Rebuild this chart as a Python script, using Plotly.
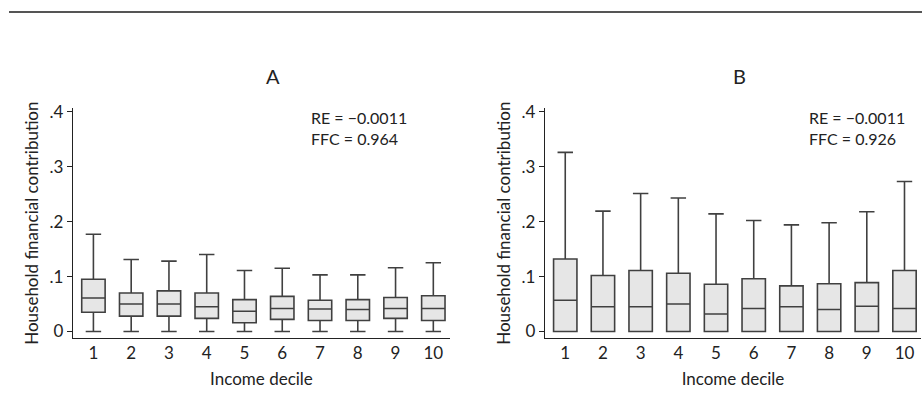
import plotly.graph_objects as go

deciles = [1, 2, 3, 4, 5, 6, 7, 8, 9, 10]
tick_labels = ["1", "2", "3", "4", "5", "6", "7", "8", "9", "10"]

# Panel A
a_low = [0, 0, 0, 0, 0, 0, 0, 0, 0, 0]
a_q1 = [0.035, 0.028, 0.028, 0.024, 0.016, 0.022, 0.020, 0.020, 0.024, 0.020]
a_med = [0.061, 0.050, 0.050, 0.045, 0.037, 0.042, 0.041, 0.040, 0.042, 0.042]
a_q3 = [0.095, 0.070, 0.074, 0.070, 0.058, 0.064, 0.057, 0.058, 0.062, 0.065]
a_high = [0.177, 0.131, 0.128, 0.140, 0.111, 0.115, 0.103, 0.103, 0.116, 0.125]

# Panel B
b_low = [0, 0, 0, 0, 0, 0, 0, 0, 0, 0]
b_q1 = [0, 0, 0, 0, 0, 0, 0, 0, 0, 0]
b_med = [0.057, 0.045, 0.045, 0.050, 0.032, 0.042, 0.045, 0.040, 0.046, 0.042]
b_q3 = [0.132, 0.102, 0.111, 0.106, 0.086, 0.096, 0.083, 0.087, 0.089, 0.111]
b_high = [0.326, 0.219, 0.251, 0.243, 0.214, 0.202, 0.194, 0.198, 0.218, 0.273]

y_ticks = [0, 0.1, 0.2, 0.3, 0.4]
y_tick_labels = ["0", ".1", ".2", ".3", ".4"]

panel_titles = ["A", "B"]
re_text = ["RE = \u22120.0011", "RE = \u22120.0011"]
ffc_text = ["FFC = 0.964", "FFC = 0.926"]

FONT = "Lato"
FILL = "#e6e6e6"
LINE = "#404040"
TXT = "#222"

fig = go.Figure()

def add_box(xa, ya, low, q1, med, q3, high):
    fig.add_trace(go.Box(
        x=deciles, lowerfence=low, q1=q1, median=med, q3=q3, upperfence=high,
        xaxis=xa, yaxis=ya, width=0.62, whiskerwidth=0.66,
        fillcolor=FILL, line=dict(color=LINE, width=1.6),
        boxpoints=False, showlegend=False, hoverinfo="skip",
    ))

add_box("x", "y", a_low, a_q1, a_med, a_q3, a_high)
add_box("x2", "y2", b_low, b_q1, b_med, b_q3, b_high)

ydom = [0.1518, 0.742]
xdomA = [0.0792, 0.488]
xdomB = [0.591, 0.999]

axis_common_x = dict(
    range=[0.46, 10.44], tickmode="array", tickvals=deciles, ticktext=tick_labels,
    showline=True, linecolor=TXT, linewidth=1.3, ticks="", showgrid=False,
    zeroline=False, tickfont=dict(family=FONT, size=17, color=TXT),
    title=dict(text="Income decile", font=dict(family=FONT, size=17, color=TXT), standoff=10),
    fixedrange=True,
)
axis_common_y = dict(
    range=[-0.0117, 0.406], tickmode="array", tickvals=y_ticks, ticktext=y_tick_labels,
    showline=True, linecolor=TXT, linewidth=1.3, ticks="outside", ticklen=5,
    tickcolor=TXT, tickwidth=1.2, showgrid=False, zeroline=False,
    tickfont=dict(family=FONT, size=17, color=TXT),
    title=dict(text="Household financial contribution", font=dict(family=FONT, size=17, color=TXT), standoff=6),
    fixedrange=True,
)

fig.update_layout(
    width=922, height=400,
    margin=dict(l=0, r=0, t=0, b=0),
    paper_bgcolor="white", plot_bgcolor="white",
    xaxis=dict(domain=xdomA, anchor="y", **axis_common_x),
    yaxis=dict(domain=ydom, anchor="x", **axis_common_y),
    xaxis2=dict(domain=xdomB, anchor="y2", **axis_common_x),
    yaxis2=dict(domain=ydom, anchor="x2", **axis_common_y),
    font=dict(family=FONT, color=TXT),
)

title_x = [273 / 922, 739 / 922]
ann_x = [310 / 922, 808 / 922]
for i in range(2):
    fig.add_annotation(text=panel_titles[i], xref="paper", yref="paper",
                       x=title_x[i], y=(400 - 70) / 400, showarrow=False,
                       xanchor="center", yanchor="middle",
                       font=dict(family=FONT, size=20, color=TXT))
    fig.add_annotation(text=re_text[i], xref="paper", yref="paper",
                       x=ann_x[i], y=(400 - 123.5) / 400, showarrow=False,
                       xanchor="left", yanchor="bottom", borderpad=0,
                       font=dict(family=FONT, size=16, color=TXT))
    fig.add_annotation(text=ffc_text[i], xref="paper", yref="paper",
                       x=ann_x[i], y=(400 - 123.5) / 400, showarrow=False,
                       xanchor="left", yanchor="top", borderpad=0,
                       font=dict(family=FONT, size=16, color=TXT))

fig.add_shape(type="line", xref="paper", yref="paper",
              x0=9 / 922, x1=1, y0=(400 - 4) / 400, y1=(400 - 4) / 400,
              line=dict(color="#555", width=2))

fig.write_html("out.html", config={"displayModeBar": False})
